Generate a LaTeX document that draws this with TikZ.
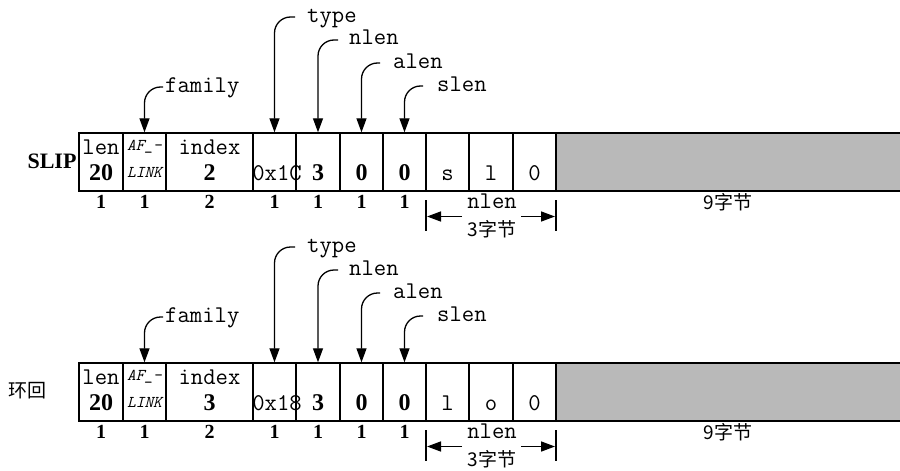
\documentclass[tikz,border=0pt]{standalone}
\usepackage{fontspec}
\setmainfont{Liberation Serif}
\newfontfamily\cjk{Noto Sans CJK SC}
\usetikzlibrary{arrows.meta}
\begin{document}
\begin{tikzpicture}[x=1pt,y=-1pt,
  cell/.style={draw,line width=1.4pt,inner sep=0pt,minimum height=58pt},
  tt/.style={font=\ttfamily\fontsize{24}{24}\selectfont,inner sep=0pt,anchor=base},
  num/.style={font=\bfseries\fontsize{24}{24}\selectfont,inner sep=0pt,anchor=base},
  small/.style={font=\bfseries\fontsize{20}{20}\selectfont,inner sep=0pt,anchor=base},
  afl/.style={font=\ttfamily\itshape\fontsize{16.5}{16.5}\selectfont,inner sep=0pt,anchor=base},
  flab/.style={font=\ttfamily\fontsize{24}{24}\selectfont,inner sep=0pt,text height=10pt,text depth=0pt,anchor=base west},
  ptr/.style={line width=1.3pt,rounded corners=16pt,-{Triangle[length=14pt,width=10pt]}},
  dimarr/.style={line width=1.5pt,-{Triangle[length=14pt,width=10pt]}},
  tickl/.style={line width=1.4pt},
  cjkl/.style={font=\cjk\fontsize{19}{19}\selectfont,inner sep=0pt},
]
\useasboundingbox (0,0) rectangle (900,471);

\node[font=\bfseries\fontsize{22}{22}\selectfont,inner sep=0pt] (slip) at (52,161) {SLIP};
\node[cjkl] (loop) at (28,391) {环回};

\foreach \r/\o/\idx/\typ/\ca/\cb/\cc in {1/0/2/0x1C/s/l/0, 2/230/3/0x18/l/o/0}{
  % gray area
  \fill[gray!55] (556,{\o+133}) rectangle (900,{\o+191});
  \draw[line width=1.4pt] (556,{\o+133}) -- (900,{\o+133});
  \draw[line width=1.4pt] (556,{\o+191}) -- (900,{\o+191});
  % cells
  \foreach \k/\a/\b in {1/79/123,2/123/166,3/166/253,4/253/296,5/296/340,6/340/383,7/383/426,8/426/469,9/469/513,10/513/556}{
    \pgfmathsetmacro\w{\b-\a}
    \node[cell,minimum width=\w pt] (c\k r\r) at ({(\a+\b)/2},{\o+162}) {};
  }
  % cell texts
  \node[tt] (len\r) at (101,{\o+154}) {len};
  \node[num] (lv\r) at (101,{\o+180}) {20};
  \node[afl] (af\r) at (144.5,{\o+150}) {AF\_-};
  \node[afl] (lk\r) at (144.5,{\o+177}) {LINK};
  \node[tt] (ix\r) at (209.5,{\o+154}) {index};
  \node[num] (iv\r) at (209.5,{\o+180}) {\idx};
  \node[tt] (tv\r) at (277,{\o+180}) {\typ};
  \node[num] (nv\r) at (318,{\o+180}) {3};
  \node[num] (av\r) at (361.5,{\o+180}) {0};
  \node[num] (sv\r) at (404.5,{\o+180}) {0};
  \node[tt] (ca\r) at (447.5,{\o+180}) {\ca};
  \node[tt] (cb\r) at (491,{\o+180}) {\cb};
  \node[tt] (cc\r) at (534.5,{\o+180}) {\cc};
  % sizes below
  \node[small] (s1r\r) at (101,{\o+208}) {1};
  \node[small] (s2r\r) at (144.5,{\o+208}) {1};
  \node[small] (s3r\r) at (209.5,{\o+208}) {2};
  \node[small] (s4r\r) at (274.5,{\o+208}) {1};
  \node[small] (s5r\r) at (318,{\o+208}) {1};
  \node[small] (s6r\r) at (361.5,{\o+208}) {1};
  \node[small] (s7r\r) at (404.5,{\o+208}) {1};
  % field labels and pointers
  \node[flab] (fam\r) at (165,{\o+92}) {family};
  \node[flab] (typ\r) at (307,{\o+22}) {type};
  \node[flab] (nln\r) at (349,{\o+45}) {nlen};
  \node[flab] (aln\r) at (393,{\o+68}) {alen};
  \node[flab] (sln\r) at (437,{\o+91}) {slen};
  \draw[ptr] ([xshift=-2pt]fam\r.west) -| (c2r\r.north);
  \draw[ptr] ([xshift=-12pt]typ\r.west) -| (c4r\r.north);
  \draw[ptr] ([xshift=-11pt]nln\r.west) -| (c5r\r.north);
  \draw[ptr] ([xshift=-13pt]aln\r.west) -| (c6r\r.north);
  \draw[ptr] ([xshift=-14pt]sln\r.west) -| (c7r\r.north);
  % nlen dimension
  \coordinate (ta\r) at (426,{\o+200});
  \coordinate (tb\r) at (426,{\o+231});
  \coordinate (tc\r) at (556,{\o+200});
  \coordinate (td\r) at (556,{\o+231});
  \draw[tickl] (ta\r) -- (tb\r);
  \draw[tickl] (tc\r) -- (td\r);
  \node[tt] (nl\r) at (492,{\o+208}) {nlen};
  \node[cjkl] (b3\r) at (492,{\o+229}) {3字节};
  \coordinate (da\r) at (462,{\o+216.5});
  \coordinate (db\r) at (427,{\o+216.5});
  \coordinate (dc\r) at (521,{\o+216.5});
  \coordinate (dd\r) at (555,{\o+216.5});
  \draw[dimarr] (da\r) -- (db\r);
  \draw[dimarr] (dc\r) -- (dd\r);
  \node[cjkl] (b9\r) at (728,{\o+202}) {9字节};
}
\end{tikzpicture}
\end{document}
